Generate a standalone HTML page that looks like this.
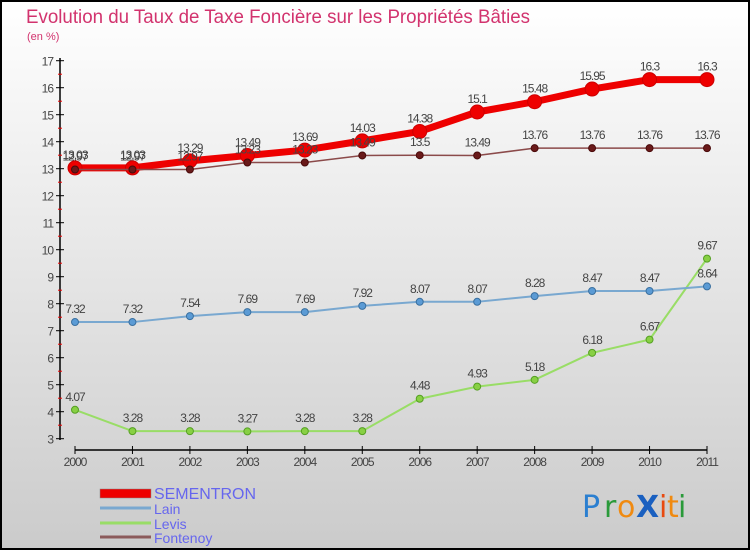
<!DOCTYPE html>
<html><head><meta charset="utf-8"><style>
body{margin:0}
#c{width:750px;height:550px;position:relative;font-family:"Liberation Sans",sans-serif}
</style></head><body>
<div id="c">
<svg id="s" width="750" height="550" xmlns="http://www.w3.org/2000/svg" font-family="Liberation Sans, sans-serif">
<defs><linearGradient id="bg" x1="0" y1="0" x2="0" y2="1"><stop offset="0" stop-color="#ffffff"/><stop offset="1" stop-color="#cbcbcb"/></linearGradient></defs>
<rect x="1" y="1" width="748" height="548" fill="url(#bg)" stroke="#000" stroke-width="2"/>
<text x="26" y="23" font-size="19" fill="#d2336e" textLength="504" lengthAdjust="spacingAndGlyphs">Evolution du Taux de Taxe Foncière sur les Propriétés Bâties</text>
<text x="27" y="40" font-size="11" fill="#d2336e">(en %)</text>
<g id="axes"></g><g id="series"></g>
<g>
<rect x="100" y="489" width="51" height="9" fill="#ee0000" stroke="#888" stroke-width="0.5"/>
<text x="154" y="499" font-size="16" fill="#6666ee" textLength="102" lengthAdjust="spacingAndGlyphs">SEMENTRON</text>
<line x1="100" y1="508" x2="151" y2="508" stroke="#79a8d0" stroke-width="3"/>
<text x="154" y="514" font-size="14" fill="#6666ee">Lain</text>
<line x1="100" y1="523" x2="151" y2="523" stroke="#99dd66" stroke-width="3"/>
<text x="154" y="529" font-size="14" fill="#6666ee">Levis</text>
<line x1="100" y1="537" x2="151" y2="537" stroke="#8b5a5a" stroke-width="3"/>
<text x="154" y="543" font-size="14" fill="#6666ee">Fontenoy</text>
</g>
<g font-size="30" font-family="DejaVu Sans, sans-serif">
<text x="582" y="517" fill="#2b7fd0">P</text><text x="604" y="517" fill="#2a9a3a">r</text><text x="617" y="517" fill="#f08a10">o</text><text x="636" y="517" fill="#1a60c0" font-weight="bold">X</text><text x="659" y="517" fill="#e84a10">i</text><text x="667" y="517" fill="#f08a10">t</text><text x="678" y="517" fill="#2a9a3a">i</text>
</g>
</svg></div>
<script>
const years=["2000","2001","2002","2003","2004","2005","2006","2007","2008","2009","2010","2011"];
const yTicks=[3,4,5,6,7,8,9,10,11,12,13,14,15,16,17];
const sementron=[13.03,13.03,13.29,13.49,13.69,14.03,14.38,15.1,15.48,15.95,16.3,16.3];
const lain=[7.32,7.32,7.54,7.69,7.69,7.92,8.07,8.07,8.28,8.47,8.47,8.64];
const levis=[4.07,3.28,3.28,3.27,3.28,3.28,4.48,4.93,5.18,6.18,6.67,9.67];
const fontenoy=[12.97,12.97,12.97,13.23,13.23,13.49,13.5,13.49,13.76,13.76,13.76,13.76];
const NS="http://www.w3.org/2000/svg";
const X=i=>75+i*(707-75)/11, Y=v=>438.7-(v-3)*27;
function mk(t,a,p){const e=document.createElementNS(NS,t);for(const k in a)e.setAttribute(k,a[k]);p.appendChild(e);return e;}
const ax=document.getElementById('axes');
let e=mk('line',{x1:60,y1:58,x2:60,y2:440,stroke:'#000','stroke-width':1.5},ax);

e=mk('line',{x1:75,y1:450,x2:707,y2:450,stroke:'#000','stroke-width':1.5},ax);

yTicks.forEach(v=>{mk('line',{x1:56,y1:Y(v),x2:64,y2:Y(v),stroke:'#000'},ax);
 if(v<17)mk('line',{x1:58,y1:Y(v+0.5),x2:62,y2:Y(v+0.5),stroke:'#e00'},ax);
 const t=mk('text',{x:53,y:Y(v)+5,'font-size':12,fill:'#444','text-anchor':'end','letter-spacing':'-1'},ax);t.textContent=v;
 });
years.forEach((y,i)=>{mk('line',{x1:X(i),y1:446,x2:X(i),y2:454,stroke:'#000'},ax);
 const t=mk('text',{x:X(i),y:466,'font-size':12,fill:'#444','text-anchor':'middle','letter-spacing':'-1'},ax);t.textContent=y;
 });
const sg=document.getElementById('series');
function series(name,d,col,w,r,dot,stroke){
 const g=mk('g',{},sg);
 mk('polyline',{points:d.map((v,i)=>X(i)+','+Y(v)).join(' '),fill:'none',stroke:col,'stroke-width':w,'stroke-linejoin':'round'},g);
 d.forEach((v,i)=>{const c=mk('circle',{cx:X(i),cy:Y(v),r:r,fill:dot,stroke:stroke,'stroke-width':1},g);
  
  const t=mk('text',{x:X(i),y:Y(v)-9,'font-size':12,fill:'#444','text-anchor':'middle','letter-spacing':'-1'},g);t.textContent=v;
  });
}
series('levis',levis,'#99dd66',2,3.5,'#88d044','#55a022');
series('lain',lain,'#79a8d0',2,3.5,'#5b9bd5','#3a70a0');
series('sementron',sementron,'#ee0000',7,7,'#ee0000','#cc0000');
series('fontenoy',fontenoy,'#8b4a4a',1.5,3.5,'#6a1a1a','#4a0a0a');
</script></body></html>
